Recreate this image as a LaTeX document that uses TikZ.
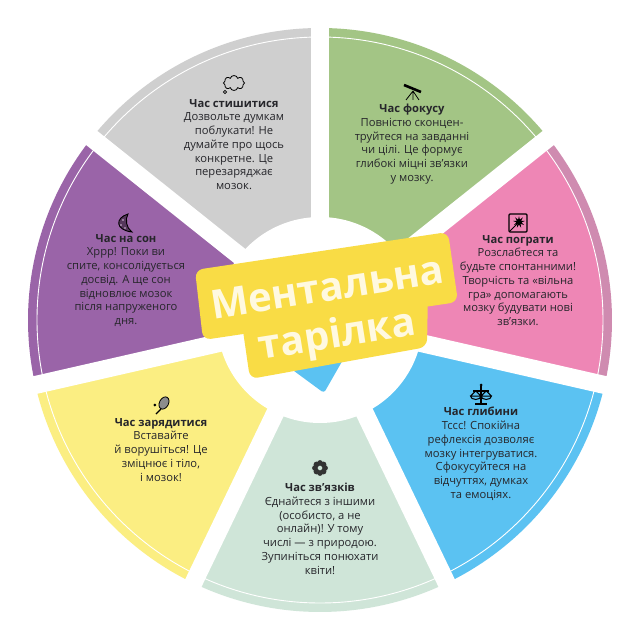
\documentclass[tikz,border=0pt]{standalone}
\usepackage{fontspec}
\setmainfont{Open Sans}
\usetikzlibrary{shapes.geometric,shapes.symbols}
\definecolor{platgray}{HTML}{CFCFCF}
\definecolor{platgreen}{HTML}{A3C585}
\definecolor{platpink}{HTML}{EE86B5}
\definecolor{platpinkb}{HTML}{CF8BB0}
\definecolor{platblue}{HTML}{5BC2F2}
\definecolor{platmint}{HTML}{CFE5D8}
\definecolor{platyellow}{HTML}{FBEE82}
\definecolor{platpurple}{HTML}{9A64A8}
\definecolor{labelyellow}{HTML}{F9DC45}
\definecolor{labeltext}{HTML}{FFF9E0}
\definecolor{inktext}{HTML}{26262B}
\tikzset{
  caption/.style={align=center,anchor=north,inner sep=0pt,text=inktext,
    font=\fontsize{11.2}{13.75}\selectfont},
  headline/.style={rotate=9,inner sep=0pt,text=labeltext,
    font=\fontsize{40}{40}\selectfont\bfseries},
  icon/.style={draw=black,line width=0.8pt}
}
\begin{document}
\begin{tikzpicture}[x=1pt,y=1pt]
\useasboundingbox (-320,-320) rectangle (320,320);
\fill[white] (-320,-320) rectangle (320,320);
% sectors, clockwise from the top
\foreach \a/\main/\band in {90/platgreen/platgreen,38.57/platpink/platpinkb,-12.86/platblue/platblue,-64.29/platmint/platmint,-115.71/platyellow/platyellow,-167.14/platpurple/platpurple,141.43/platgray/platgray}{
  \fill[\band] (0,0) -- (\a:292) arc[start angle=\a,delta angle=-51.43,radius=292] -- cycle;
  \fill[\main] (0,0) -- (\a:283) arc[start angle=\a,delta angle=-51.43,radius=283] -- cycle;
}
% thin ring
\draw[white,line width=0.9pt] (0,0) circle[radius=283];
% gaps between sectors
\foreach \a in {90,38.57,-12.86,-64.29,-115.71,-167.14,141.43}
  \draw[white,line width=18pt] (0,0) -- (\a:300);
\fill[white] (0,0) circle[radius=103];
% wedge under the label
\fill[platblue,rounded corners=3pt] (-30,-48) -- (4,-73) -- (24,-38) -- cycle;
% label
\fill[labelyellow,rounded corners=8pt] (-125,50) -- (128,88) -- (138,18) -- (-117,-20) -- cycle;
\fill[labelyellow,rounded corners=8pt] (-80,10) -- (108,30) -- (107,-27) -- (-70,-59) -- cycle;
\node[headline] (title1) at (7,33) {Ментальна};
\node[headline] (title2) at (17,-17) {тарілка};
% texts
\node[caption] (gray) at (-86,221) {\textbf{Час стишитися}\\Дозвольте думкам\\поблукати! Не\\думайте про щось\\конкретне. Це\\перезаряджає\\мозок.};
\node[caption] (green) at (92,216) {\textbf{Час фокусу}\\Повністю сконцен-\\труйтеся на завданні\\чи цілі. Це формує\\глибокі міцні зв'язки\\у мозку.};
\node[caption] (pink) at (198,85) {\textbf{Час пограти}\\Розслабтеся та\\будьте спонтанними!\\Творчість та «вільна\\гра» допомагають\\мозку будувати нові\\зв'язки.};
\node[caption] (blue) at (161,-87) {\textbf{Час глибини}\\Тссс! Спокійна\\рефлексія дозволяє\\мозку інтегруватися.\\Сфокусуйтеся на\\відчуттях, думках\\та емоціях.};
\node[caption] (mint) at (0,-163) {\textbf{Час зв'язків}\\Єднайтеся з іншими\\(особисто, а не\\онлайн)! У тому\\числі — з природою.\\Зупиніться понюхати\\квіти!};
\node[caption] (yellow) at (-159,-98) {\textbf{Час зарядитися}\\Вставайте\\й ворушіться! Це\\зміцнює і тіло,\\і мозок!};
\node[caption] (purple) at (-194,86) {\textbf{Час на сон}\\Хррр! Поки ви\\спите, консолідується\\досвід. А ще сон\\відновлює мозок\\після напруженого\\дня.};
% icons
% thought cloud
\node[cloud,icon,cloud puffs=8,minimum width=21pt,minimum height=15pt,inner sep=0pt] (cloudicon) at (-86,237) {};
\draw[icon] (-95,228) circle[radius=1.6];
% telescope
\draw[line width=2.6pt] (84,235) -- (101,228);
\draw[line width=0.8pt] (93,229) -- (86,220) (93,229) -- (93,220) (93,229) -- (99,220);
% laser box
\draw[line width=1.1pt,rounded corners=1pt] (189,88) rectangle (207,106);
\node[star,star points=9,star point ratio=2.4,fill=black,inner sep=0pt,minimum size=12pt] (burst) at (199,98) {};
\draw[line width=0.8pt] (190,89) -- (199,98);
% scales
\draw[line width=1.1pt] (161,-66) -- (161,-83) (155,-84) -- (167,-84) (153,-71) -- (169,-71);
\fill (161,-65) circle[radius=1.5];
\foreach \s in {150.5,161}
  \draw[line width=1pt] (\s,-76) arc[start angle=180,end angle=360,x radius=5.25,y radius=3.5] -- cycle
    (\s,-76) -- (\s+5.25,-71) -- (\s+10.5,-76);
% flower
\foreach \p in {0,45,...,315}
  \fill[black!80] (0,-148)++(\p:5) circle[radius=2.9];
\fill[platmint] (0,-148) circle[radius=1.6];
% racket
\draw[line width=0.8pt,fill=black!45,rotate around={62:(-156,-83)}] (-156,-83) ellipse[x radius=6.5,y radius=4.5];
\draw[line width=1.4pt] (-159,-89) -- (-164,-94);
\fill (-165,-85) circle[radius=1.5];
% moon
\draw[line width=0.9pt,fill=platpurple!55!black] (-192,106) .. controls (-205,102) and (-205,90) .. (-188,88) .. controls (-194,92) and (-195,101) .. (-192,106) -- cycle;
\foreach \q in {(-197,100),(-199,95),(-195,92)}
  \fill[platpurple!40] \q circle[radius=0.9];
\end{tikzpicture}
\end{document}
